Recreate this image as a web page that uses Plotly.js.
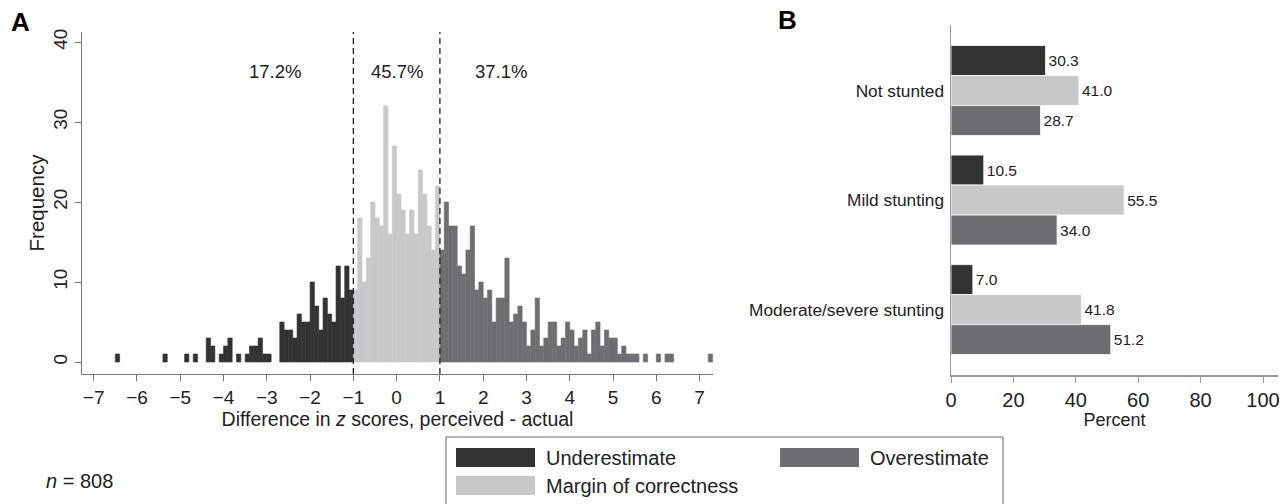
<!DOCTYPE html>
<html>
<head>
<meta charset="utf-8">
<script src="https://cdn.plot.ly/plotly-3.0.1.min.js"></script>
<style>html,body{margin:0;padding:0;background:#fff;}#chart{width:1288px;height:504px;}</style>
</head>
<body>
<div id="chart"></div>
<script>
// ---------- Panel A data: histogram counts, bin width 0.1 ----------
const binWidth = 0.1;
const underStart = -6.5;   // Underestimate bins from -6.5 to -1.0
const underCounts = [1,0,0,0,0,0,0,0,0,0,0, 1,0,0,0,0, 1,0,1,0,0,
  3,2,0,1,2,3,0,1,0,1,2,2,3,1,1,0,0,
  5,4,4,3,6,5,5,10,7,4,8,6,5,12,8,12,9];
const marginStart = -1.0;  // Margin of correctness bins from -1.0 to 1.0
const marginCounts = [9,18,10,13,20,18,17,32,16,27,21,19,16,19,16,24,21,17,14,22];
const overStart = 1.0;     // Overestimate bins from 1.0 to 7.3
const overCounts = [14,20,17,17,12,11,14,17,9,10,8,9,5,8,8,13,5,6,7,5,
  2,4,8,2,3,5,5,2,3,5,4,2,3,4,1,4,5,2,4,3,3,1,2,1,1,1,0,1,0,0,1,0,1,1,
  0,0,0,0,0,0,0,0,1];
const cutoffs = [-1, 1];
const shareLabels = ['17.2%', '45.7%', '37.1%'];
const shareX = [-2.8, 0.0, 2.4];
const xTicks = [-7,-6,-5,-4,-3,-2,-1,0,1,2,3,4,5,6,7];
const freqTicks = [0, 10, 20, 30, 40];

// ---------- Panel B data ----------
const groups = ['Not stunted', 'Mild stunting', 'Moderate/severe stunting'];
const underPct = [30.3, 10.5, 7.0];
const marginPct = [41.0, 55.5, 41.8];
const overPct = [28.7, 34.0, 51.2];
const seriesNames = ['Underestimate', 'Margin of correctness', 'Overestimate'];
const pctTicks = [0, 20, 40, 60, 80, 100];

// ---------- styles ----------
const C_UNDER = '#333333', C_MARGIN = '#c7c8ca', C_OVER = '#6d6e72';
const FONT = 'Liberation Sans, Arial, Helvetica, sans-serif';
const W = 1288, H = 504;
const px = v => v / W;
const py = v => (H - v) / H;

function centers(start, counts) {
  return counts.map((_, i) => Math.round((start + binWidth * i + binWidth / 2) * 1000) / 1000);
}

function histTrace(start, counts, color, name) {
  return {
    type: 'bar', x: centers(start, counts), y: counts, width: binWidth, offset: -binWidth / 2,
    offsetgroup: 'hist', xaxis: 'x', yaxis: 'y', name: name,
    marker: {color: color, line: {color: color, width: counts.map(v => v > 0 ? 0.6 : 0)}},
    showlegend: false, hoverinfo: 'x+y'
  };
}

function pctTrace(vals, color, name) {
  return {
    type: 'bar', orientation: 'h', x: vals, y: groups, xaxis: 'x2', yaxis: 'y2', name: name,
    marker: {color: color, line: {color: '#ffffff', width: 0.8}},
    text: vals.map(v => v.toFixed(1)), textposition: 'outside', cliponaxis: false,
    textfont: {family: FONT, size: 15.5, color: '#222'}, showlegend: false
  };
}

const data = [
  histTrace(underStart, underCounts, C_UNDER, seriesNames[0]),
  histTrace(marginStart, marginCounts, C_MARGIN, seriesNames[1]),
  histTrace(overStart, overCounts, C_OVER, seriesNames[2]),
  pctTrace(underPct, C_UNDER, seriesNames[0]),
  pctTrace(marginPct, C_MARGIN, seriesNames[1]),
  pctTrace(overPct, C_OVER, seriesNames[2])
];

const shapes = cutoffs.map(c => ({
  type: 'line', xref: 'x', yref: 'y', x0: c, x1: c, y0: -1.5, y1: 41.25,
  line: {color: '#222', width: 1.3, dash: '6px,4px'}
}));

// legend box and swatches (manual legend)
shapes.push({type: 'rect', xref: 'paper', yref: 'paper', x0: px(446), x1: px(1003), y0: py(512), y1: py(437),
  line: {color: '#666', width: 1}, fillcolor: 'rgba(0,0,0,0)'});
const legendItems = [
  {name: seriesNames[0], color: C_UNDER, x: 456, y: 448},
  {name: seriesNames[2], color: C_OVER, x: 780, y: 448},
  {name: seriesNames[1], color: C_MARGIN, x: 456, y: 476}
];

const annotations = [];
legendItems.forEach(it => {
  shapes.push({type: 'rect', xref: 'paper', yref: 'paper', x0: px(it.x), x1: px(it.x + 79),
    y0: py(it.y + 19), y1: py(it.y), line: {width: 0}, fillcolor: it.color});
  annotations.push({xref: 'paper', yref: 'paper', x: px(it.x + 88), y: py(it.y + 9.5), xanchor: 'left', yanchor: 'middle',
    text: it.name, showarrow: false, font: {family: FONT, size: 20, color: '#222'}});
});

shareLabels.forEach((t, i) => annotations.push({
  xref: 'x', yref: 'y', x: shareX[i], y: 36.3, text: t, showarrow: false,
  font: {family: FONT, size: 18.5, color: '#222'}
}));

annotations.push({xref: 'paper', yref: 'paper', x: px(9), y: py(22), xanchor: 'left', yanchor: 'middle',
  text: '<b>A</b>', showarrow: false, font: {family: FONT, size: 26, color: '#000'}});
annotations.push({xref: 'paper', yref: 'paper', x: px(776), y: py(20), xanchor: 'left', yanchor: 'middle',
  text: '<b>B</b>', showarrow: false, font: {family: FONT, size: 26, color: '#000'}});
annotations.push({xref: 'paper', yref: 'paper', x: px(44), y: py(481), xanchor: 'left', yanchor: 'middle',
  text: '<i>n</i> = 808', showarrow: false, font: {family: FONT, size: 20, color: '#222'}});

const layout = {
  width: W, height: H, margin: {l: 0, r: 0, t: 0, b: 0}, paper_bgcolor: '#fff', plot_bgcolor: '#fff',
  font: {family: FONT, color: '#222'}, showlegend: false, barmode: 'group', bargap: 0.179, bargroupgap: 0,
  xaxis: {domain: [px(82), px(713)], anchor: 'y', range: [-7.27, 7.31], tickmode: 'array',
    tickvals: xTicks, ticks: 'outside', ticklen: 6, tickcolor: '#777',
    showline: true, linecolor: '#777', linewidth: 1, showgrid: false, zeroline: false,
    tickfont: {family: FONT, size: 19, color: '#222'},
    title: {text: 'Difference in <i>z</i> scores, perceived - actual', font: {family: FONT, size: 19.5, color: '#222'}, standoff: 1}},
  yaxis: {domain: [py(374), py(32)], anchor: 'x', range: [-1.5, 41.25], tickmode: 'array', tickvals: freqTicks,
    ticks: 'outside', ticklen: 6, tickcolor: '#777', tickangle: -90, showline: true, linecolor: '#777', linewidth: 1,
    showgrid: false, zeroline: false, tickfont: {family: FONT, size: 19, color: '#222'},
    title: {text: 'Frequency', font: {family: FONT, size: 20.5, color: '#222'}, standoff: 0}},
  xaxis2: {domain: [px(951), px(1278)], anchor: 'y2', range: [0, 104.8], tickmode: 'array', tickvals: pctTicks,
    ticks: 'outside', ticklen: 6, tickcolor: '#999', showline: true, linecolor: '#999', linewidth: 1.5,
    showgrid: false, zeroline: false, tickfont: {family: FONT, size: 20, color: '#222'},
    title: {text: 'Percent', font: {family: FONT, size: 18, color: '#222'}, standoff: 0}},
  yaxis2: {domain: [py(375), py(25)], anchor: 'x2', type: 'category', categoryorder: 'array', categoryarray: groups,
    range: [2.597, -0.598], showline: true, linecolor: '#999', linewidth: 1.5, ticks: '', showgrid: false,
    zeroline: false, tickfont: {family: FONT, size: 17.3, color: '#222'}, ticklabelstandoff: 2},
  shapes: shapes, annotations: annotations
};

Plotly.newPlot('chart', data, layout, {staticPlot: true, displayModeBar: false});
</script>
</body>
</html>
